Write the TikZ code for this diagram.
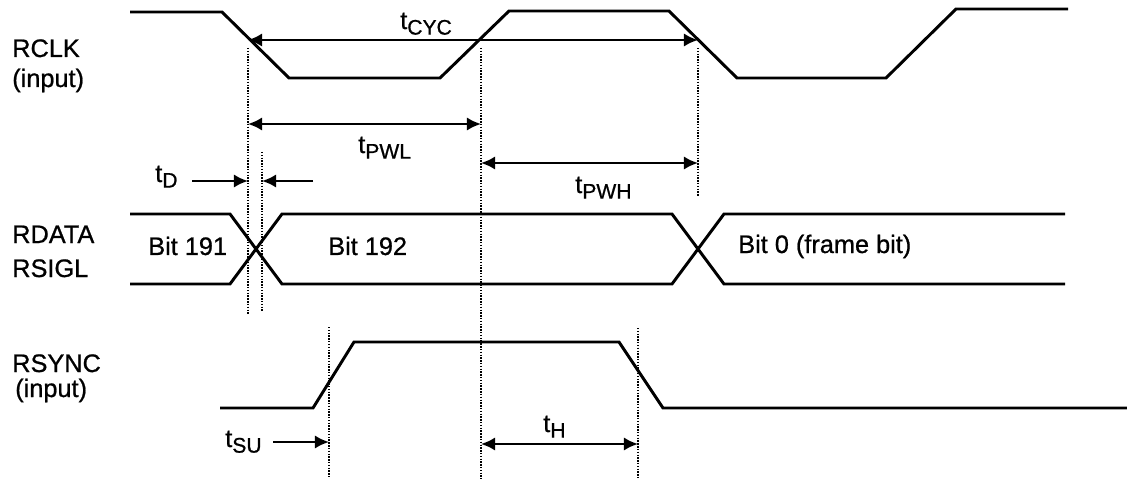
\documentclass[tikz,border=0pt]{standalone}
\usepackage{fontspec}
\setmainfont{Liberation Sans}
\newfontfamily\labelfont[FakeBold=0.8]{Liberation Sans}
\usetikzlibrary{arrows.meta}
\newcommand{\tsub}[1]{t\raisebox{-0.42ex}{\fontsize{15}{15}\selectfont #1}}
\tikzset{
	wave/.style={line width=2.1pt,line join=miter},
	guide/.style={line width=1.8pt,dash pattern=on 1pt off 1pt},
	dim/.style={line width=1.7pt,-{Latex[length=10pt,width=9.5pt]}},
	dimboth/.style={line width=1.7pt,{Latex[length=10pt,width=9.5pt]}-{Latex[length=10pt,width=9.5pt]}},
	lbl/.style={anchor=base west,inner sep=0pt,font=\labelfont\fontsize{18}{20}\selectfont}
}
\begin{document}
\begin{tikzpicture}[x=0.025cm,y=-0.025cm]
	\useasboundingbox (0,0) rectangle (1127,479);
	
	\node[lbl] (rclk) at (12,57) {RCLK};
	\node[lbl] (rclkin) at (12,87) {(input)};
	\node[lbl] (rdata) at (12,243) {RDATA};
	\node[lbl] (rsigl) at (12,277) {RSIGL};
	\node[lbl] (rsync) at (12,372) {RSYNC};
	\node[lbl] (rsyncin) at (15,397) {(input)};
	
	\draw[wave] (130,12) -- (222,12) -- (289,78) -- (440,78) -- (509,11) -- (669,11) -- (737,78) -- (886,78) -- (956,9) -- (1068,9);
	\draw[wave] (130,214) -- (230,214) -- (282,284) -- (672,284) -- (724,214) -- (1065,214);
	\draw[wave] (130,284) -- (230,284) -- (282,214) -- (672,214) -- (724,284) -- (1065,284);
	\draw[wave] (220,408) -- (313,408) -- (354,342) -- (619,342) -- (663,408) -- (1127,408);
	
	\foreach \x/\ya/\yb in {248/48/315, 262/152/312, 481/48/479, 698/48/197, 329/327/479, 638/328/479}
	\draw[guide] (\x,\ya) -- (\x,\yb);
	
	\coordinate (cyc-l) at (248,40);
	\coordinate (cyc-r) at (698,40);
	\coordinate (pwl-l) at (248,124);
	\coordinate (pwl-r) at (481,124);
	\coordinate (pwh-l) at (481,163);
	\coordinate (pwh-r) at (698,163);
	\coordinate (d-a) at (192,181);
	\coordinate (d-l) at (248,181);
	\coordinate (d-b) at (313,181);
	\coordinate (d-r) at (262,181);
	\coordinate (su-a) at (273,442);
	\coordinate (su-r) at (329,442);
	\coordinate (h-l) at (481,444);
	\coordinate (h-r) at (638,444);
	
	\draw[dimboth] (cyc-l) -- (cyc-r);
	\draw[dimboth] (pwl-l) -- (pwl-r);
	\draw[dimboth] (pwh-l) -- (pwh-r);
	\draw[dim] (d-a) -- (d-l);
	\draw[dim] (d-b) -- (d-r);
	\draw[dim] (su-a) -- (su-r);
	\draw[dimboth] (h-l) -- (h-r);
	
	\node[lbl] (tcyc) at (400,29) {\tsub{CYC}};
	\node[lbl] (tpwl) at (358,153) {\tsub{PWL}};
	\node[lbl] (tpwh) at (575,193) {\tsub{PWH}};
	\node[lbl] (td) at (155,182) {\tsub{D}};
	\node[lbl] (tsu) at (225,447) {\tsub{SU}};
	\node[lbl] (th) at (543,432) {\tsub{H}};
	
	\node[lbl] (bit191) at (148,255) {Bit 191};
	\node[lbl] (bit192) at (328,255) {Bit 192};
	\node[lbl] (bit0) at (738,253) {Bit 0 (frame bit)};
\end{tikzpicture}
\end{document}
